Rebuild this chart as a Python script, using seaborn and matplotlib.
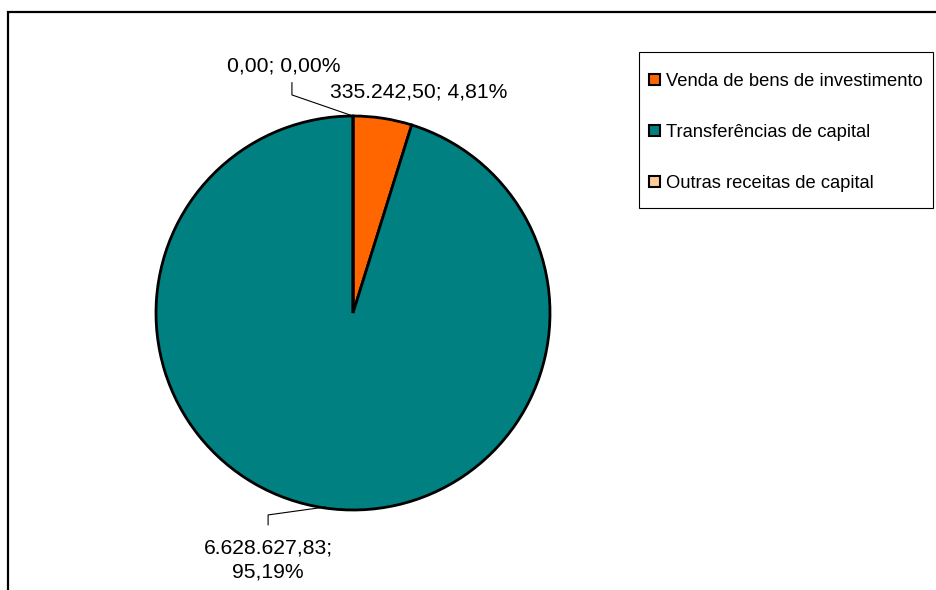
import numpy as np
import matplotlib
matplotlib.use("Agg")
import matplotlib.pyplot as plt
import seaborn as sns
from matplotlib.patches import Rectangle

# Data
categories = ["Venda de bens de investimento", "Transferências de capital", "Outras receitas de capital"]
values = [335242.50, 6628627.83, 0.00]
value_labels = ["335.242,50; 4,81%", "6.628.627,83;\n95,19%", "0,00; 0,00%"]
colors = ["#FF6600", "#008080", "#FFCC99"]

sns.set_style("white")
plt.rcParams['font.family'] = ['Liberation Sans', 'DejaVu Sans']
plt.rcParams['text.color'] = 'black'

fig = plt.figure(figsize=(9.36, 5.9), dpi=100)
W, H = 936, 590

# outer frame (clipped on the right and bottom like the reference)
fig.patches.append(Rectangle((8 / W, -0.2), 1.2, 1.2 - 12 / H,
                             transform=fig.transFigure, fill=False,
                             edgecolor="black", linewidth=1.6))

# pie axes: centre at pixel (353, 313), radius 197 px
cx, cy, r = 353, 313, 197
ax = fig.add_axes([0, 0, 1, 1])
ax.axis("off")

wedges, _ = ax.pie(values, colors=colors, startangle=90, counterclock=False,
                   radius=1, wedgeprops=dict(edgecolor="black", linewidth=2))
ax.set_aspect("auto")
ax.set_xlim(-cx / r, (W - cx) / r)
ax.set_ylim(-(H - cy) / r, cy / r)

fs = 15.2
# label for orange slice
ax.text(-0.115, 1.12, value_labels[0], fontsize=fs, ha="left", va="center")

# label for zero slice with leader line
ax.plot([0.0, -0.31, -0.31], [1.0, 1.107, 1.17], color="black", lw=0.8)
ax.text(-0.35, 1.255, value_labels[2], fontsize=fs, ha="center", va="center")

# label for teal slice with leader line
ax.plot([-0.142, -0.431, -0.431], [-0.985, -1.025, -1.076], color="black", lw=0.8)
ax.text(-0.431, -1.255, value_labels[1], fontsize=fs, ha="center", va="center",
        linespacing=1.35)

# legend box drawn separately so its padding matches the reference
fig.patches.append(Rectangle((639 / W, 1 - 208 / H), (933 - 639) / W, (208 - 52) / H,
                             transform=fig.transFigure, fill=False,
                             edgecolor="black", linewidth=0.8))
leg = fig.legend(wedges, categories, loc="upper left",
                 bbox_to_anchor=(649 / W, 1 - 73 / H), borderaxespad=0,
                 fontsize=13.2, frameon=False,
                 handlelength=0.6, handleheight=0.6, handletextpad=0.3,
                 labelspacing=1.85, borderpad=0)
for h in leg.legend_handles:
    h.set_linewidth(1.5)

plt.savefig("out.png", dpi=100)
